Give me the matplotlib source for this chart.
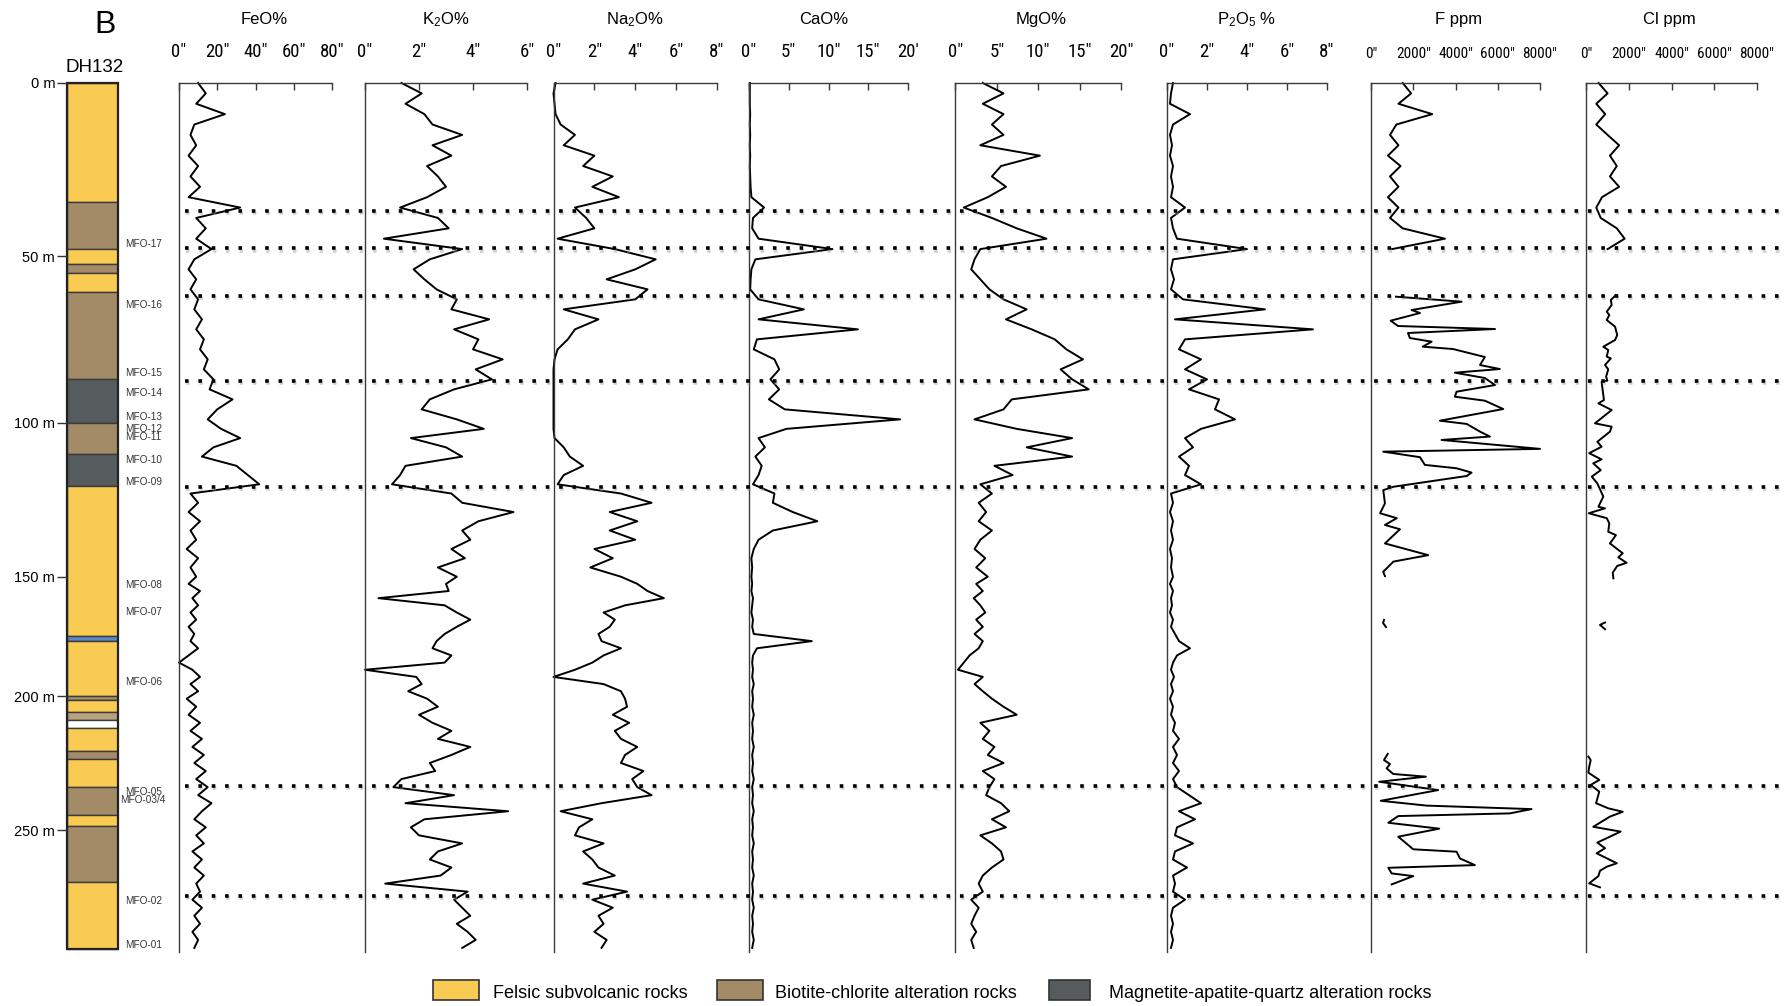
import numpy as np
import matplotlib
matplotlib.use("Agg")
import matplotlib.pyplot as plt
import matplotlib.patheffects as pe
from matplotlib.patches import Rectangle
from matplotlib.ticker import NullLocator
from matplotlib import font_manager

# ---------------- data ----------------
# sample depths down hole DH132 (m)
depth_m = [0, 3, 6, 9, 12, 15, 18, 21, 24, 27, 30, 33, 36, 39, 42, 45, 48, 51, 54, 57,
           60, 63, 66, 69, 72, 75, 78, 81, 84, 87, 90, 93, 96, 99, 102, 105, 108, 111, 114, 117,
           120, 123, 126, 129, 132, 135, 138, 141, 144, 147, 150, 153, 156, 159, 162, 165, 168, 171, 174, 177,
           180, 183, 186, 189, 192, 195, 198, 201, 204, 207, 210, 213, 216, 219, 222, 225, 228, 231, 234, 237,
           240, 243, 246, 249, 252, 255, 258, 261, 264, 267, 270, 273, 276, 279, 282, 285, 288, 291, 294]

feo = [10, 14, 9, 24, 8, 6, 9, 5, 10, 6,
       11, 5, 32, 9, 14, 9, 17, 8, 5, 9,
       6, 10, 8, 12, 9, 13, 11, 15, 13, 18,
       16, 28, 20, 15, 22, 32, 18, 12, 30, 36,
       42, 6, 10, 5, 11, 6, 9, 4, 10, 6,
       9, 5, 11, 7, 10, 6, 9, 5, 8, 6,
       10, 5, 0, 7, 11, 6, 10, 4, 9, 5,
       11, 6, 12, 7, 13, 8, 14, 9, 15, 10,
       17, 12, 8, 14, 9, 13, 7, 12, 8, 13,
       9, 11, 7, 12, 8, 11, 7, 10, 8]

k2o = [1.35, 2.1, 1.5, 2.2, 2.5, 3.6, 2.5, 3.2, 2.3, 2.7,
       3.0, 2.3, 1.3, 2.7, 3.1, 0.7, 3.6, 2.4, 1.8, 2.2,
       2.65, 3.4, 3.2, 4.6, 3.3, 4.2, 4.0, 5.1, 4.1, 4.7,
       3.3, 2.4, 2.1, 3.4, 4.4, 1.7, 3.0, 3.6, 1.5, 1.3,
       1.0, 3.2, 3.6, 5.5, 4.2, 3.6, 3.9, 3.2, 3.7, 2.7,
       3.4, 3.0, 3.1, 0.5, 2.95, 3.4, 3.9, 3.4, 2.95, 2.65,
       2.5, 3.2, 2.95, 0.0, 1.9, 2.1, 1.6, 2.3, 2.7, 2.0,
       2.5, 3.2, 2.7, 3.9, 3.2, 2.4, 2.6, 1.35, 1.05, 3.3,
       1.5, 5.3, 2.2, 1.7, 2.0, 3.6, 2.7, 2.4, 3.2, 2.8,
       0.75, 3.8, 3.3, 3.6, 3.9, 3.4, 3.8, 4.1, 3.6]

na2o = [0.1, 0.0, 0.05, 0.1, 0.35, 1.05, 0.5, 2.0, 1.45, 2.9,
        1.9, 3.2, 1.05, 1.6, 2.0, 0.2, 3.0, 5.0, 4.0, 2.6,
        4.6, 4.0, 0.5, 2.2, 1.05, 0.7, 0.2, 0.05, 0.0, 0.0,
        0.0, 0.0, 0.0, 0.0, 0.0, 0.05, 0.5, 0.8, 1.45, 0.5,
        0.2, 3.3, 4.8, 2.75, 4.1, 2.75, 4.0, 2.0, 2.9, 1.8,
        3.3, 4.1, 4.6, 5.4, 3.5, 2.45, 3.0, 2.75, 2.2, 2.35,
        3.3, 2.45, 1.9, 1.05, 0.0, 2.45, 3.3, 3.5, 3.6, 2.9,
        3.7, 3.0, 3.3, 4.1, 3.5, 3.3, 4.4, 3.85, 4.1, 4.8,
        2.35, 0.35, 1.9, 1.25, 1.05, 2.45, 1.45, 1.9, 2.2, 3.0,
        1.45, 3.6, 1.9, 2.9, 2.2, 2.45, 2.0, 2.6, 2.35]

cao = [0.1, 0.1, 0.1, 0.15, 0.1, 0.15, 0.1, 0.15, 0.1, 0.15,
       0.2, 0.3, 1.9, 0.5, 0.4, 1.2, 10.5, 0.8, 0.3, 0.2,
       0.15, 1.2, 6.9, 1.2, 13.7, 1.0, 0.6, 3.2, 3.8, 2.7,
       3.8, 2.5, 4.5, 19.0, 4.7, 1.2, 2.0, 0.8, 1.6, 1.2,
       0.5, 3.2, 3.0, 5.5, 8.6, 3.0, 1.2, 0.6, 0.3, 0.4,
       0.3, 0.4, 0.3, 0.5, 0.4, 0.3, 0.5, 0.4, 0.6, 7.9,
       1.0, 0.5, 0.4, 0.5, 0.4, 0.6, 0.4, 0.5, 0.4, 0.6,
       0.4, 0.5, 0.4, 0.6, 0.4, 0.5, 0.4, 0.6, 0.4, 0.5,
       0.4, 0.6, 0.4, 0.5, 0.4, 0.6, 0.4, 0.5, 0.4, 0.6,
       0.4, 0.5, 0.4, 0.6, 0.4, 0.5, 0.4, 0.6, 0.4]

mgo = [3.3, 5.8, 3.3, 5.8, 4.4, 5.8, 3.0, 10.2, 5.5, 4.4,
       6.1, 3.9, 1.0, 4.4, 7.4, 11.0, 3.0, 2.3, 1.9, 3.0,
       4.1, 5.8, 8.6, 6.1, 9.2, 12.0, 13.4, 15.4, 12.7, 14.1,
       16.1, 6.8, 5.8, 2.3, 7.4, 14.1, 8.6, 14.1, 4.7, 6.9,
       3.0, 4.4, 2.8, 3.7, 2.8, 4.4, 3.0, 2.3, 3.6, 2.5,
       3.9, 2.5, 3.3, 2.2, 3.0, 3.6, 2.5, 3.3, 2.3, 3.3,
       2.8, 1.7, 1.0, 0.3, 3.3, 2.3, 3.3, 4.4, 5.8, 7.4,
       3.0, 4.1, 3.3, 4.7, 3.9, 5.8, 3.3, 4.7, 4.1, 3.7,
       5.5, 6.5, 4.4, 6.1, 3.0, 4.4, 5.5, 5.8, 4.4, 3.3,
       2.8, 3.3, 1.9, 2.8, 2.3, 1.9, 2.5, 1.9, 2.2]

p2o5 = [0.3, 0.2, 0.15, 1.15, 0.3, 0.15, 0.25, 0.15, 0.3, 0.2,
        0.3, 0.2, 0.9, 0.2, 0.3, 0.5, 4.0, 0.3, 0.2, 0.35,
        0.2, 0.8, 4.9, 0.4, 7.3, 0.9, 0.6, 1.7, 0.9, 2.0,
        1.1, 2.6, 2.4, 3.4, 1.7, 0.9, 1.3, 0.6, 1.1, 0.9,
        1.7, 0.2, 0.3, 0.15, 0.3, 0.2, 0.3, 0.15, 0.25, 0.2,
        0.3, 0.15, 0.3, 0.2, 0.25, 0.15, 0.3, 0.2, 0.4, 0.6,
        1.15, 0.5, 0.3, 0.2, 0.35, 0.2, 0.3, 0.15, 0.3, 0.2,
        0.4, 0.3, 0.6, 0.3, 0.5, 0.3, 0.6, 0.3, 0.5, 1.1,
        1.7, 0.6, 1.4, 0.5, 0.4, 1.3, 0.4, 0.3, 1.0, 0.3,
        0.4, 0.3, 0.9, 0.3, 0.2, 0.3, 0.2, 0.3, 0.2]

# F and Cl were only analysed over some intervals
f_upper_depth = [0, 3, 6, 9, 12, 15, 18, 21, 24, 27, 30, 33, 36, 39, 42, 45, 48]
f_upper = [1500, 1900, 1300, 2900, 1200, 900, 1300, 800, 1400, 900, 1300, 800, 1300, 900, 1500, 3500, 1000]
f_mid_depth = [62.2, 63.7, 66.2, 67.1, 69.4, 71.0, 71.9, 73.1, 74.6, 75.7, 77.2, 77.9, 80.3, 82.7, 83.9,
               85.0, 86.6, 88.7, 90.7, 92.2, 93.4, 95.9, 99.4, 100.4, 102.9, 104.5, 105.6, 108.5, 109.4, 111.2,
               113.7, 114.8, 116.2, 117.3, 120.8, 121.9, 126.2, 129.4, 131.0, 133.2, 134.6, 139.2, 143.0, 145.1,
               148.4, 149.8]
f_mid = [1180, 4290, 1920, 2320, 930, 1280, 5870, 1750, 1840, 2870, 2450, 3880, 5390, 5160, 6100,
         3970, 5390, 5870, 4050, 3970, 5390, 6260, 3260, 4530, 5160, 5630, 3340, 8000, 580, 2320,
         2550, 4050, 4760, 4530, 1060, 580, 660, 430, 1220, 660, 1370, 660, 2710, 1060,
         580, 660]
f_spot_depth = [168.1, 169.4, 171.1]
f_spot = [615, 570, 710]
f_lower_depth = [221.6, 223.9, 225.4, 227.0, 229.1, 230.1, 232.0, 235.1, 239.1, 240.9, 242.2, 243.8,
                 244.8, 247.3, 249.5, 252.5, 257.2, 258.1, 260.6, 263.1, 264.1, 266.2, 267.2, 270.3]
f_lower = [790, 615, 900, 740, 1055, 2600, 390, 3180, 460, 2630, 7600, 6570,
           1290, 820, 3230, 1290, 2000, 4050, 4210, 4920, 820, 980, 2000, 980]

cl_upper_depth = [0, 3, 6, 9, 12, 15, 18, 21, 24, 27, 30, 33, 36, 39, 42, 45, 48]
cl_upper = [590, 1010, 480, 900, 480, 1010, 1550, 1120, 1440, 1120, 1550, 750, 480, 690, 1440, 1810, 1010]
cl_mid_depth = [61.7, 63.2, 64.7, 66.7, 67.7, 69.2, 71.2, 73.7, 75.2, 77.2, 78.2, 80.2, 80.7, 82.7, 84.0,
                86.2, 87.4, 87.7, 93.2, 94.2, 96.2, 100.2, 101.3, 102.9, 106.2, 107.8, 109.9, 111.9, 113.2,
                115.4, 117.5, 119.7, 124.0, 127.3, 127.8, 129.4, 131.0, 132.7, 135.4, 136.5, 139.2, 142.4,
                143.7, 145.5, 146.5, 148.7, 150.7]
cl_mid = [1400, 1160, 1200, 970, 1090, 970, 1360, 1460, 1360, 810, 1040, 970, 1160, 890, 1040,
          940, 1000, 730, 840, 580, 1200, 420, 1200, 1120, 530, 730, 150, 730, 340,
          690, 270, 530, 810, 580, 890, 130, 970, 1090, 1040, 1400, 1120, 1720,
          1510, 1900, 1460, 1250, 1280]
cl_spot_depth = [169.2, 170.2, 172.0]
cl_spot = [890, 655, 890]
cl_lower_depth = [222.6, 223.9, 226.4, 228.6, 231.3, 233.2, 235.7, 240.0, 241.9, 243.2, 245.0,
                  248.8, 250.6, 254.7, 256.8, 258.7, 262.4, 263.7, 265.2, 267.2, 269.9, 271.4]
cl_lower = [110, 220, 150, 110, 620, 220, 620, 470, 1040, 1720, 1120,
            340, 1620, 530, 890, 500, 1440, 970, 655, 580, 150, 655]

# lithology log
litho_top = [0, 34.3, 48.1, 52.5, 55.0, 60.9, 87.0, 100.0, 110.3, 120.6, 174.9, 176.8,
             200.0, 201.5, 205.9, 209.0, 211.8, 220.6, 223.6, 234.0, 244.4, 248.5, 269.3]
litho_base = [34.3, 48.1, 52.5, 55.0, 60.9, 87.0, 100.0, 110.3, 120.6, 174.9, 176.8, 200.0,
              201.5, 205.9, 209.0, 211.8, 220.6, 223.6, 234.0, 244.4, 248.5, 269.3, 294.5]
litho_kind = ['felsic', 'biotite', 'felsic', 'biotite', 'felsic', 'biotite', 'magnetite', 'biotite',
              'magnetite', 'felsic', 'blue', 'felsic', 'biotite', 'felsic', 'tan', 'white', 'felsic',
              'biotite', 'felsic', 'biotite', 'felsic', 'biotite', 'felsic']

samples = ['MFO-17', 'MFO-16', 'MFO-15', 'MFO-14', 'MFO-13', 'MFO-12', 'MFO-11', 'MFO-10', 'MFO-09',
           'MFO-08', 'MFO-07', 'MFO-06', 'MFO-05', 'MFO-03/4', 'MFO-02', 'MFO-01']
sample_depth = [46.5, 64.7, 85.1, 91.1, 98.3, 102.0, 104.6, 112.1, 119.3,
                153.5, 164.8, 194.2, 235.8, 238.8, 276.5, 292.9]

marker_depth = [36.9, 47.8, 61.9, 87.5, 120.8, 233.6, 274.5]

depth_ticks = [0, 50, 100, 150, 200, 250]

# the log is drawn with an uneven depth scale: depth -> distance down the log
scale_depth = [-20, 0, 50, 100, 150, 200, 250, 330]
scale_pos = [-69.2, 0, 173, 339.7, 493.7, 613, 747, 961.4]

# ---------------- style ----------------
names = {f.name for f in font_manager.fontManager.ttflist}
SANS = 'Liberation Sans'
if 'Roboto Condensed' in names:
    NARROW, TICK_SIZE, PPM_TICK_SIZE = 'Roboto Condensed', 13.5, 11
else:
    NARROW, TICK_SIZE, PPM_TICK_SIZE = 'Liberation Sans', 11, 10
plt.rcParams['font.family'] = [SANS, 'DejaVu Sans']
plt.rcParams['mathtext.fontset'] = 'custom'
plt.rcParams['mathtext.rm'] = SANS
plt.rcParams['mathtext.it'] = SANS + ':italic'

litho_color = {'felsic': '#F9CB53', 'biotite': '#A28B66', 'magnetite': '#565B5E',
               'blue': '#5A86C8', 'tan': '#B7A27E', 'white': '#FFFFFF'}

W, H = 1788, 1006
TOP, BOT = 83, 952
fig = plt.figure(figsize=(W / 100, H / 100), dpi=100)


def fwd(d):
    return np.interp(d, scale_depth, scale_pos)


def inv(p):
    return np.interp(p, scale_pos, scale_depth)


y_bottom = float(inv(BOT - TOP))


def box(x0, x1):
    ax = fig.add_axes([x0 / W, 1 - BOT / H, (x1 - x0) / W, (BOT - TOP) / H])
    ax.set_yscale('function', functions=(fwd, inv))
    ax.set_ylim(y_bottom, 0)
    ax.yaxis.set_minor_locator(NullLocator())
    ax.patch.set_visible(False)
    return ax


# ---------------- lithology column ----------------
ax_col = box(67, 118)
ax_col.set_xlim(0, 1)
for top, base, kind in zip(litho_top, litho_base, litho_kind):
    ax_col.bar(0.5, base - top, bottom=top, width=1, color=litho_color[kind],
               edgecolor='#3b3b3b', linewidth=1.0)
ax_col.bar(0.5, litho_base[-1] - litho_top[0], bottom=litho_top[0], width=1, fill=False,
           edgecolor='#222222', linewidth=1.6, clip_on=False)
for s in ax_col.spines.values():
    s.set_visible(False)
ax_col.set_xticks([])
ax_col.set_yticks(depth_ticks)
ax_col.set_yticklabels([f'{d} m' for d in depth_ticks], fontsize=10.5)
ax_col.yaxis.set_minor_locator(NullLocator())
ax_col.tick_params(axis='y', direction='out', length=7, width=1.0, pad=1.5, color='#333333')

trans = ax_col.get_yaxis_transform()
for name, d in zip(samples, sample_depth):
    xt = 1.04 if name == 'MFO-03/4' else 1.14
    ax_col.text(xt, d, name, transform=trans, fontsize=7.2, va='center', ha='left', color='#333333')

fig.text(105 / W, 1 - 25 / H, 'B', ha='center', va='center', fontsize=23)
fig.text(95 / W, 1 - 67.5 / H, 'DH132', ha='center', va='center', fontsize=13.5)

# ---------------- geochemical profiles ----------------
panels = [
    ('FeO%', [(depth_m, feo)], 80, [0, 20, 40, 60, 80], ['0"', '20"', '40"', '60"', '80"']),
    ('K$_2$O%', [(depth_m, k2o)], 6, [0, 2, 4, 6], ['0"', '2"', '4"', '6"']),
    ('Na$_2$O%', [(depth_m, na2o)], 8, [0, 2, 4, 6, 8], ['0"', '2"', '4"', '6"', '8"']),
    ('CaO%', [(depth_m, cao)], 20, [0, 5, 10, 15, 20], ['0"', '5"', '10"', '15"', "20'"]),
    ('MgO%', [(depth_m, mgo)], 20, [0, 5, 10, 15, 20], ['0"', '5"', '10"', '15"', '20"']),
    ('P$_2$O$_5$ %', [(depth_m, p2o5)], 8, [0, 2, 4, 6, 8], ['0"', '2"', '4"', '6"', '8"']),
    ('F ppm', [(f_upper_depth, f_upper), (f_mid_depth, f_mid), (f_spot_depth, f_spot),
               (f_lower_depth, f_lower)], 8000, [0, 2000, 4000, 6000, 8000],
     ['0"', '2000"', '4000"', '6000"', '8000"']),
    ('Cl ppm', [(cl_upper_depth, cl_upper), (cl_mid_depth, cl_mid), (cl_spot_depth, cl_spot),
                (cl_lower_depth, cl_lower)], 8000, [0, 2000, 4000, 6000, 8000],
     ['0"', '2000"', '4000"', '6000"', '8000"']),
]
spans = [(179, 332), (365, 527), (553.5, 717), (749, 908),
         (955.5, 1121), (1167, 1327), (1371, 1540), (1586, 1757)]
title_shift = [9, 0, 0, -5, 3, 0, 3, -2]

for (title, series, xmax, ticks, labels), (x0, x1), dx in zip(panels, spans, title_shift):
    ax = box(x0, x1)
    ax.set_xlim(0, xmax)
    for dep, val in series:
        ax.plot(val, dep, color='black', lw=1.4, clip_on=False)
    ax.spines['right'].set_visible(False)
    ax.spines['bottom'].set_visible(False)
    for s in ('left', 'top'):
        ax.spines[s].set_color('#3a3a3a')
        ax.spines[s].set_linewidth(1.0)
    ax.xaxis.tick_top()
    ax.set_xticks(ticks)
    size = PPM_TICK_SIZE if xmax > 100 else TICK_SIZE
    ax.set_xticklabels(labels, fontfamily=NARROW, fontsize=size)
    ax.tick_params(axis='x', direction='in', length=5, width=1.0, pad=15.5, color='#3a3a3a')
    ax.tick_params(axis='y', left=False, labelleft=False)
    fig.text(((x0 + x1) / 2 + dx) / W, 1 - 24 / H, title, ha='center', va='baseline', fontsize=12)

# ---------------- dotted correlation lines ----------------
ax_dot = box(185, W)
ax_dot.set_xlim(0, 1)
ax_dot.axis('off')
for d in marker_depth:
    ax_dot.axhline(d, color='black', lw=2.6, ls=(0, (1, 2.7)), dash_capstyle='butt',
                   path_effects=[pe.SimpleLineShadow(offset=(0.8, -1.6), shadow_color='#9a9a9a', alpha=0.45),
                                 pe.Normal()])

# ---------------- legend ----------------
legend_items = [('felsic', 'Felsic subvolcanic rocks'),
                ('biotite', 'Biotite-chlorite alteration rocks'),
                ('magnetite', 'Magnetite-apatite-quartz alteration rocks')]
legend_pos = [(433, 479, 493), (717, 763, 775), (1049, 1090, 1109)]
for (kind, label), (px0, px1, tx) in zip(legend_items, legend_pos):
    fig.patches.append(Rectangle((px0 / W, 1 - 1000 / H), (px1 - px0) / W, 20 / H,
                                 transform=fig.transFigure, facecolor=litho_color[kind],
                                 edgecolor='#333333', linewidth=1.2))
    fig.text(tx / W, 1 - 998 / H, label, fontsize=13, va='baseline', ha='left')

fig.savefig('out.png', dpi=100)
